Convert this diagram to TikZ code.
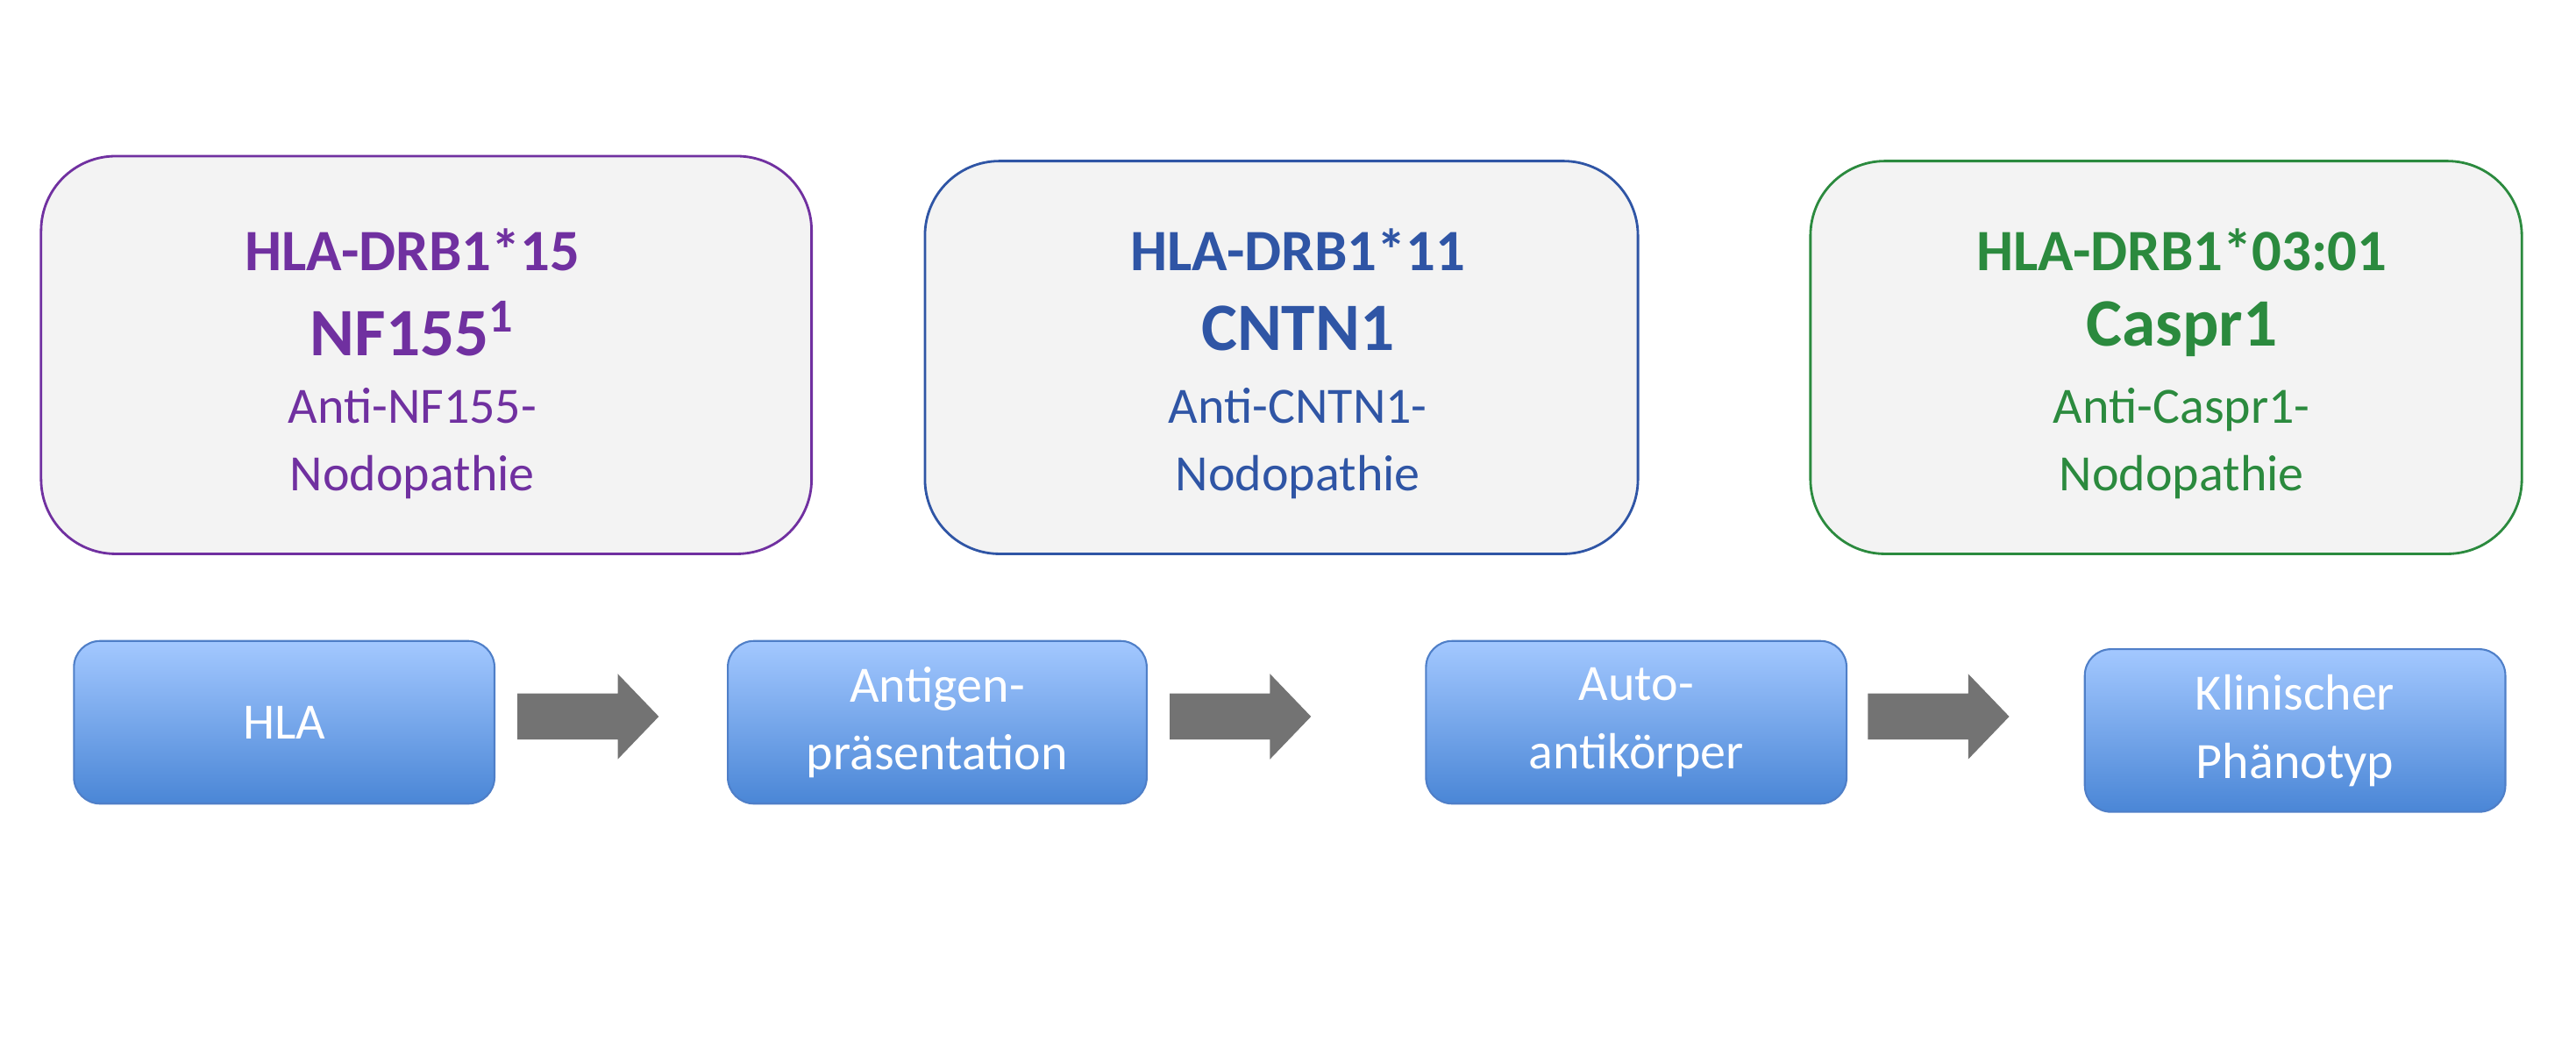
\documentclass[tikz,border=0pt]{standalone}
\usepackage{fontspec}
\setmainfont{Carlito}
\definecolor{pur}{HTML}{7030A0}
\definecolor{blu}{HTML}{2F55A5}
\definecolor{grn}{HTML}{2B8A3E}
\definecolor{boxfill}{HTML}{F3F3F3}
\definecolor{btop}{HTML}{A3C8FF}
\definecolor{bbot}{HTML}{4A86D6}
\definecolor{bbord}{HTML}{4F7FC8}
\definecolor{agray}{HTML}{737373}
\begin{document}
\begin{tikzpicture}[x=0.01874cm,y=-0.01874cm,
  top/.style={draw=#1,fill=boxfill,rounded corners=0.85cm,line width=0.8pt,text=#1,align=center,inner sep=0pt},
  bot/.style={draw=bbord,top color=btop,bottom color=bbot,rounded corners=0.3cm,line width=0.6pt,text=white,align=center,font=\fontsize{16.5}{22}\selectfont,inner sep=0pt},
  arr/.style={fill=agray,draw=none},
  t1/.style={font=\fontsize{19}{22}\selectfont\bfseries},
  t2/.style={font=\fontsize{22}{26}\selectfont\bfseries},
  t3/.style={font=\fontsize{16.5}{22}\selectfont}]
\useasboundingbox (0,0) rectangle (1568,634);
\node[top=pur,minimum width=469*0.01874cm,minimum height=242*0.01874cm] (a) at (259.5,216) {};
\node[top=blu,minimum width=434*0.01874cm,minimum height=239*0.01874cm] (b) at (780,217.5) {};
\node[top=grn,minimum width=433*0.01874cm,minimum height=239*0.01874cm] (c) at (1318.5,217.5) {};
\node[text=pur,t1] (a1) at (251,152) {HLA-DRB1*15};
\node[text=pur,t2] (a2) at (251,200) {NF155\textsuperscript{1}};
\node[text=pur,t3,align=center] (a3) at (251,270) {Anti-NF155-\\Nodopathie};
\node[text=blu,t1] (b1) at (790,152) {HLA-DRB1*11};
\node[text=blu,t2] (b2) at (790,200) {CNTN1};
\node[text=blu,t3,align=center] (b3) at (790,270) {Anti-CNTN1-\\Nodopathie};
\node[text=grn,t1] (c1) at (1328,152) {HLA-DRB1*03:01};
\node[text=grn,t2] (c2) at (1328,200) {Caspr1};
\node[text=grn,t3,align=center] (c3) at (1328,270) {Anti-Caspr1-\\Nodopathie};
\node[bot,minimum width=256*0.01874cm,minimum height=99*0.01874cm] (h) at (173,439.5) {HLA};
\node[bot,minimum width=255*0.01874cm,minimum height=99*0.01874cm] (g) at (570.5,439.5) {Antigen-\\präsentation};
\node[bot,minimum width=256*0.01874cm,minimum height=99*0.01874cm] (k) at (996,439.5) {Auto-\\antikörper};
\node[bot,minimum width=256*0.01874cm,minimum height=99*0.01874cm] (p) at (1397,444.5) {Klinischer\\Phänotyp};
\foreach \s in {315,712,1137}
  \fill[arr] (\s,422) -- (\s+61,422) -- (\s+61,410) -- (\s+86,436) -- (\s+61,462) -- (\s+61,450) -- (\s,450) -- cycle;
\end{tikzpicture}
\end{document}
